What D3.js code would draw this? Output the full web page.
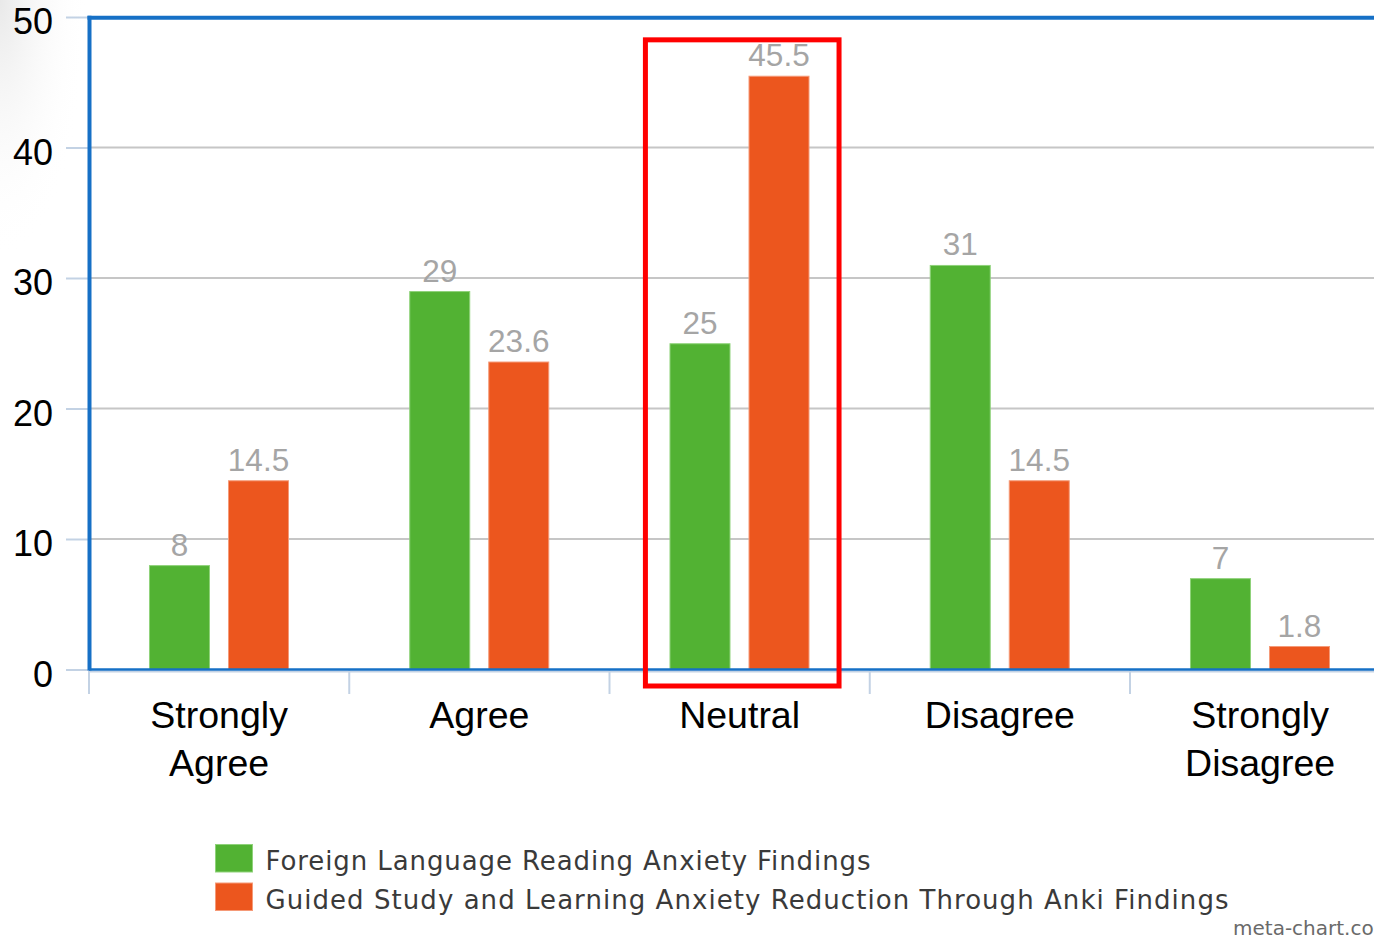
<!DOCTYPE html>
<html>
<head>
<meta charset="utf-8">
<script src="https://cdn.jsdelivr.net/npm/d3@7"></script>
<style>
  html, body { margin: 0; padding: 0; background: #fff; overflow: hidden; }
  svg { display: block; }
</style>
</head>
<body>
<svg id="chart" width="1374" height="938"></svg>
<script>
// Response categories along the x axis (line breaks via "\n")
const categories = ["Strongly\nAgree", "Agree", "Neutral", "Disagree", "Strongly\nDisagree"];
// Series names (legend) and their values, one value per category
const seriesNames = [
  "Foreign Language Reading Anxiety Findings",
  "Guided Study and Learning Anxiety Reduction Through Anki Findings"
];
const readingAnxiety = [8, 29, 25, 31, 7];
const ankiReduction = [14.5, 23.6, 45.5, 14.5, 1.8];
const yTicks = [0, 10, 20, 30, 40, 50];
const highlighted = "Neutral";

const colors = ["#52b233", "#ec561e"];
const edgeColors = ["#8fd27a", "#f59a78"];

const svg = d3.select("#chart");
const W = 1374, H = 938;

// subtle shading in the top-left corner
const defs = svg.append("defs");
const rg = defs.append("radialGradient").attr("id", "corner")
  .attr("cx", 0).attr("cy", 0).attr("r", 1)
  .attr("gradientUnits", "objectBoundingBox");
rg.append("stop").attr("offset", "0%").attr("stop-color", "#e9e9e9");
rg.append("stop").attr("offset", "100%").attr("stop-color", "#ffffff").attr("stop-opacity", 0);
svg.append("rect").attr("x", 0).attr("y", 0).attr("width", 88).attr("height", 260)
  .attr("fill", "url(#corner)");

const x0 = d3.scaleBand().domain(categories).range([89, 1390.25]).padding(0);
const bw = x0.bandwidth();
const x1 = d3.scaleBand().domain([0, 1]).range([bw * 0.2305, bw * 0.7685]).paddingInner(0.228);
const y = d3.scaleLinear().domain([0, 50]).range([669.5, 17]);

const data = categories.map((c, i) => ({ cat: c, values: [readingAnxiety[i], ankiReduction[i]] }));

// horizontal gridlines
svg.append("g").selectAll("line").data(yTicks.filter(t => t > 0 && t < 50)).join("line")
  .attr("x1", 89).attr("x2", W)
  .attr("y1", d => y(d)).attr("y2", d => y(d))
  .attr("stroke", "#c6c6c6").attr("stroke-width", 2);

// y axis: ticks and labels
const yAxis = d3.axisLeft(y).tickValues(yTicks).tickSize(23).tickPadding(13);
const gy = svg.append("g").attr("transform", "translate(89,0)").call(yAxis);
gy.select(".domain").remove();
gy.selectAll(".tick line").attr("stroke", "#c3d2e4").attr("stroke-width", 2);
gy.selectAll(".tick text")
  .attr("fill", "#000").attr("font-family", "'Liberation Sans', Arial, sans-serif")
  .attr("font-size", 36).attr("dy", "0.46em");

// x axis: light line and tick marks at band boundaries
const xAxisG = svg.append("g");
xAxisG.append("line").attr("x1", 89).attr("x2", W).attr("y1", 671.5).attr("y2", 671.5)
  .attr("stroke", "#c3d2e4").attr("stroke-width", 2);
xAxisG.selectAll("line.tk").data(categories).join("line").attr("class", "tk")
  .attr("x1", d => x0(d)).attr("x2", d => x0(d))
  .attr("y1", 670).attr("y2", 694)
  .attr("stroke", "#c3d2e4").attr("stroke-width", 2);

// category labels
const catLabels = svg.append("g").selectAll("text").data(categories).join("text")
  .attr("x", d => x0(d) + bw / 2).attr("y", 728)
  .attr("text-anchor", "middle")
  .attr("font-family", "'Liberation Sans', Arial, sans-serif")
  .attr("font-size", 37.5).attr("fill", "#000");
catLabels.each(function (d) {
  const t = d3.select(this);
  d.split("\n").forEach((line, i) => {
    t.append("tspan").attr("x", x0(d) + bw / 2).attr("dy", i === 0 ? 0 : 48).text(line);
  });
});

// bars
const groups = svg.append("g").selectAll("g").data(data).join("g")
  .attr("transform", d => `translate(${x0(d.cat)},0)`);
groups.selectAll("rect").data(d => d.values.map((v, k) => ({ v, k }))).join("rect")
  .attr("x", d => x1(d.k) + 0.5)
  .attr("width", x1.bandwidth() - 1)
  .attr("y", d => y(d.v) + 0.5)
  .attr("height", d => y(0) - y(d.v) - 0.5)
  .attr("fill", d => colors[d.k])
  .attr("stroke", d => edgeColors[d.k]).attr("stroke-width", 1);

// value labels
groups.selectAll("text").data(d => d.values.map((v, k) => ({ v, k }))).join("text")
  .attr("x", d => x1(d.k) + x1.bandwidth() / 2)
  .attr("y", d => y(d.v) - 9.5)
  .attr("text-anchor", "middle")
  .attr("font-family", "'Liberation Sans', Arial, sans-serif")
  .attr("font-size", 31.5).attr("fill", "#a5a5a5")
  .text(d => d.v);

// blue frame: left, top and baseline
const blue = "#1670c6";
svg.append("line").attr("x1", 89.5).attr("x2", 89.5).attr("y1", 15.8).attr("y2", 670.5)
  .attr("stroke", blue).attr("stroke-width", 4);
svg.append("line").attr("x1", 87.5).attr("x2", W).attr("y1", 17.8).attr("y2", 17.8)
  .attr("stroke", blue).attr("stroke-width", 4);
svg.append("line").attr("x1", 89).attr("x2", W).attr("y1", y(0)).attr("y2", y(0))
  .attr("stroke", blue).attr("stroke-width", 2.5);

// highlight box around the Neutral group
const hx = x0(highlighted);
svg.append("rect")
  .attr("x", hx + bw * 0.138).attr("y", y(48.25))
  .attr("width", bw * 0.744).attr("height", y(0) + 16.5 - y(48.25))
  .attr("fill", "none").attr("stroke", "#ff0000").attr("stroke-width", 5);

// legend
const legend = svg.append("g").attr("transform", "translate(215,844)");
const legendWidths = [605, 963];
seriesNames.forEach((name, i) => {
  const g = legend.append("g").attr("transform", `translate(0,${i * 38.5})`);
  g.append("rect").attr("x", 0.5).attr("y", 0.5).attr("width", 37).attr("height", 27.5)
    .attr("fill", colors[i]).attr("stroke", edgeColors[i]).attr("stroke-width", 1);
  g.append("text").attr("x", 50.5).attr("y", 26)
    .attr("font-family", "'DejaVu Sans', sans-serif").attr("font-size", 26)
    .attr("fill", "#3a3a3a")
    .attr("textLength", legendWidths[i]).attr("lengthAdjust", "spacing")
    .text(name);
});

// credit line
svg.append("text").attr("x", 1233).attr("y", 935)
  .attr("font-family", "'DejaVu Sans', sans-serif").attr("font-size", 20)
  .attr("fill", "#6a6a6a").text("meta-chart.com");
</script>
</body>
</html>
